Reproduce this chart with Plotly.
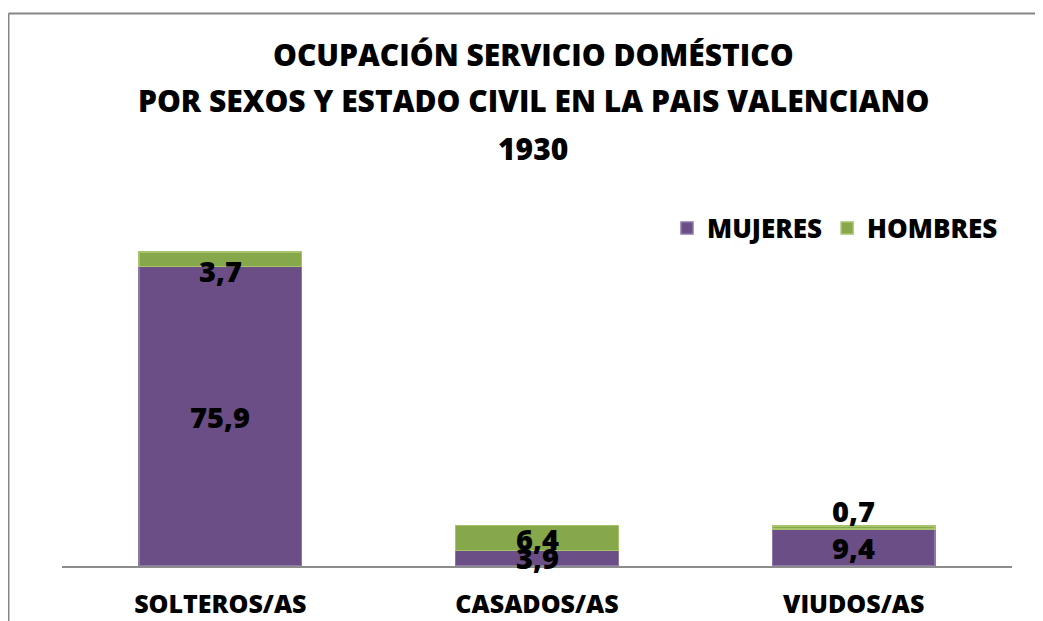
import plotly.graph_objects as go

categories = ["SOLTEROS/AS", "CASADOS/AS", "VIUDOS/AS"]
mujeres = [75.9, 3.9, 9.4]
hombres = [3.7, 6.4, 0.7]
mujeres_labels = ["75,9", "3,9", "9,4"]
hombres_labels = ["3,7", "6,4", "0,7"]
title_lines = ["OCUPACIÓN SERVICIO DOMÉSTICO",
               "POR SEXOS Y ESTADO CIVIL EN LA PAIS VALENCIANO",
               "1930"]

FONT = "Open Sans"
WEIGHT = 800
PURPLE = "#6a4e85"
GREEN = "#86a84a"

# The page body has an 8px margin; work in screenshot pixels and convert.
OFF = 8
W, H = 1043 - OFF, 621 - OFF
X0, X1 = 62, 1012
Y_BASE = 566
Y_TOP = 211
L = X0 - OFF
R = W - (X1 - OFF)
T = Y_TOP - OFF
B = H - (Y_BASE - OFF)
pw = W - L - R
ph = H - T - B


def px_x(p):
    return (p - X0) / pw


def px_y(p):
    return (Y_BASE - p) / ph


fig = go.Figure()
fig.add_trace(go.Bar(x=categories, y=mujeres, name="MUJERES",
                     marker=dict(color=PURPLE, line=dict(color="#8e78aa", width=1.5))))
fig.add_trace(go.Bar(x=categories, y=hombres, name="HOMBRES",
                     marker=dict(color=GREEN, line=dict(color="#a7c46d", width=1.5))))

lab_font = dict(family=FONT, size=29, color="black", weight=WEIGHT)
annotations = []
m_shift = [0, 1, 0]
h_shift = [-11, -1, 17]
for i, c in enumerate(categories):
    annotations.append(dict(x=c, y=mujeres[i] / 2, text=mujeres_labels[i], showarrow=False,
                            yshift=m_shift[i], font=lab_font, borderpad=0))
    annotations.append(dict(x=c, y=mujeres[i] + hombres[i] / 2, text=hombres_labels[i], showarrow=False,
                            yshift=h_shift[i], font=lab_font, borderpad=0))

for line, py in zip(title_lines, [55, 101, 148]):
    annotations.append(dict(xref="paper", yref="paper", x=px_x(533), y=px_y(py), text=line,
                            showarrow=False, xanchor="center", yanchor="middle",
                            font=dict(family=FONT, size=30, color="black", weight=WEIGHT)))

shapes = [
    dict(type="line", xref="paper", yref="paper", x0=px_x(8.5), x1=px_x(8.5),
         y0=px_y(13.5), y1=px_y(640), line=dict(color="#868686", width=2)),
    dict(type="line", xref="paper", yref="paper", x0=px_x(8.5), x1=px_x(1060),
         y0=px_y(13.5), y1=px_y(13.5), line=dict(color="#868686", width=2)),
]

fig.update_layout(
    width=W, height=H,
    margin=dict(l=L, r=R, t=T, b=B, autoexpand=False),
    barmode="stack", bargap=0.486,
    plot_bgcolor="white", paper_bgcolor="white",
    showlegend=True,
    legend=dict(orientation="h", x=px_x(1003), xanchor="right", y=px_y(228), yanchor="middle",
                font=dict(family=FONT, size=26, color="black", weight=WEIGHT),
                itemwidth=30, traceorder="normal", bgcolor="rgba(0,0,0,0)"),
    xaxis=dict(showline=True, linecolor="#8c8c8c", linewidth=2, ticks="outside", ticklen=15,
               tickcolor="rgba(0,0,0,0)",
               tickfont=dict(family=FONT, size=25, color="black", weight=WEIGHT),
               showgrid=False, zeroline=False),
    yaxis=dict(range=[0, 90], visible=False, showgrid=False, zeroline=False),
    annotations=annotations,
    shapes=shapes,
)

fig.write_html("out.html")
